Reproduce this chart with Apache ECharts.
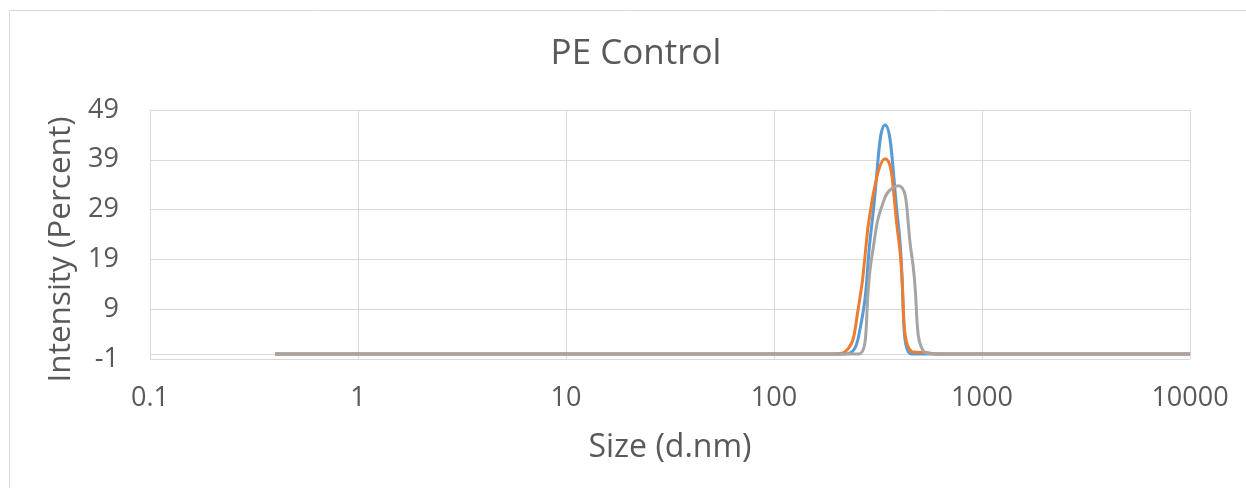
<!DOCTYPE html>
<html>
<head>
<meta charset="utf-8">
<title>PE Control</title>
<script src="https://cdn.jsdelivr.net/npm/echarts@6/dist/echarts.min.js"></script>
<style>
  html, body { margin: 0; padding: 0; background: #ffffff; }
  #chart { width: 1246px; height: 488px; }
</style>
</head>
<body>
<div id="chart"></div>
<script>
// Size bins (d.nm), log-spaced from 0.4 to 10000
const sizes = [
  0.4, 0.4632, 0.5365, 0.6213, 0.7195, 0.8332, 0.9649, 1.117, 1.294, 1.499,
  1.736, 2.01, 2.328, 2.696, 3.122, 3.615, 4.187, 4.849, 5.615, 6.503,
  7.531, 8.721, 10.1, 11.7, 13.54, 15.69, 18.17, 21.04, 24.36, 28.21,
  32.67, 37.84, 43.82, 50.75, 58.77, 68.06, 78.82, 91.28, 105.7, 122.4,
  141.8, 164.2, 190.1, 220.2, 255.0, 295.3, 342.0, 396.1, 458.7, 531.2,
  615.1, 712.4, 825.0, 955.4, 1106, 1281, 1484, 1718, 1990, 2305,
  2669, 3091, 3580, 4145, 4801, 5560, 6439, 7456, 8635, 10000
];

// Intensity (%) per bin for the three measurements
const run1 = [
  0, 0, 0, 0, 0, 0, 0, 0, 0, 0,
  0, 0, 0, 0, 0, 0, 0, 0, 0, 0,
  0, 0, 0, 0, 0, 0, 0, 0, 0, 0,
  0, 0, 0, 0, 0, 0, 0, 0, 0, 0,
  0, 0, 0, 0, 3.5, 26.0, 46.0, 26.0, 0, 0,
  0, 0, 0, 0, 0, 0, 0, 0, 0, 0,
  0, 0, 0, 0, 0, 0, 0, 0, 0, 0
];
const run2 = [
  0, 0, 0, 0, 0, 0, 0, 0, 0, 0,
  0, 0, 0, 0, 0, 0, 0, 0, 0, 0,
  0, 0, 0, 0, 0, 0, 0, 0, 0, 0,
  0, 0, 0, 0, 0, 0, 0, 0, 0, 0,
  0, 0, 0, 0.5, 9.5, 30.5, 39.2, 23.5, 0.5, 0.3,
  0, 0, 0, 0, 0, 0, 0, 0, 0, 0,
  0, 0, 0, 0, 0, 0, 0, 0, 0, 0
];
const run3 = [
  0, 0, 0, 0, 0, 0, 0, 0, 0, 0,
  0, 0, 0, 0, 0, 0, 0, 0, 0, 0,
  0, 0, 0, 0, 0, 0, 0, 0, 0, 0,
  0, 0, 0, 0, 0, 0, 0, 0, 0, 0,
  0, 0, 0, 0, 0, 19.5, 31.5, 33.8, 20.0, 0.3,
  0, 0, 0, 0, 0, 0, 0, 0, 0, 0,
  0, 0, 0, 0, 0, 0, 0, 0, 0, 0
];

// Axis tick values
const xTicks = [0.1, 1, 10, 100, 1000, 10000];
const yTicks = [-1, 9, 19, 29, 39, 49];

const seriesNames = ['Record 1', 'Record 2', 'Record 3'];
const seriesValues = [run1, run2, run3];
const seriesColors = ['#5B9BD5', '#ED7D31', '#A5A5A5'];

const FONT = '"Open Sans", sans-serif';
const TEXT = '#595959';
const GRID_LINE = '#d9d9d9';

const chart = echarts.init(document.getElementById('chart'), null, { renderer: 'canvas' });

const pairs = vals => sizes.map((s, i) => [s, vals[i]]);

chart.setOption({
  animation: false,
  backgroundColor: '#ffffff',
  title: {
    text: 'PE Control',
    left: 631,
    top: 32,
    textAlign: 'center',
    textStyle: { fontFamily: FONT, fontSize: 35, fontWeight: 'normal', color: TEXT }
  },
  graphic: [{
    type: 'rect',
    shape: { x: 9.5, y: 10.5, width: 1400, height: 600 },
    style: { fill: 'none', stroke: GRID_LINE, lineWidth: 1 },
    silent: true
  }],
  grid: { left: 150, right: 56, top: 110, bottom: 129, containLabel: false },
  xAxis: {
    type: 'log',
    logBase: 10,
    min: xTicks[0],
    max: xTicks[xTicks.length - 1],
    name: 'Size (d.nm)',
    nameLocation: 'middle',
    nameGap: 73,
    nameTextStyle: { fontFamily: FONT, fontSize: 32, color: TEXT },
    axisLine: { show: true, lineStyle: { color: GRID_LINE, width: 1 } },
    axisTick: { show: false },
    axisLabel: {
      fontFamily: FONT, fontSize: 27, color: TEXT, margin: 26,
      formatter: v => String(Number(v.toPrecision(6)))
    },
    splitLine: { show: true, lineStyle: { color: GRID_LINE, width: 1 } }
  },
  yAxis: {
    type: 'value',
    min: yTicks[0],
    max: yTicks[yTicks.length - 1],
    name: 'Intensity (Percent)',
    nameLocation: 'middle',
    nameGap: 72,
    nameTextStyle: { fontFamily: FONT, fontSize: 31.5, color: TEXT, padding: [0, 30, 0, 0] },
    axisLine: { show: false },
    axisTick: { show: false, customValues: yTicks },
    axisLabel: { fontFamily: FONT, fontSize: 27, color: TEXT, margin: 31, customValues: yTicks },
    splitLine: { show: true, lineStyle: { color: GRID_LINE, width: 1 } }
  },
  series: seriesValues.map((vals, k) => ({
    name: seriesNames[k],
    type: 'line',
    data: pairs(vals),
    smooth: true,
    showSymbol: false,
    symbol: 'none',
    lineStyle: { color: seriesColors[k], width: 3 },
    itemStyle: { color: seriesColors[k] },
    z: 2 + k
  }))
});
</script>
</body>
</html>
